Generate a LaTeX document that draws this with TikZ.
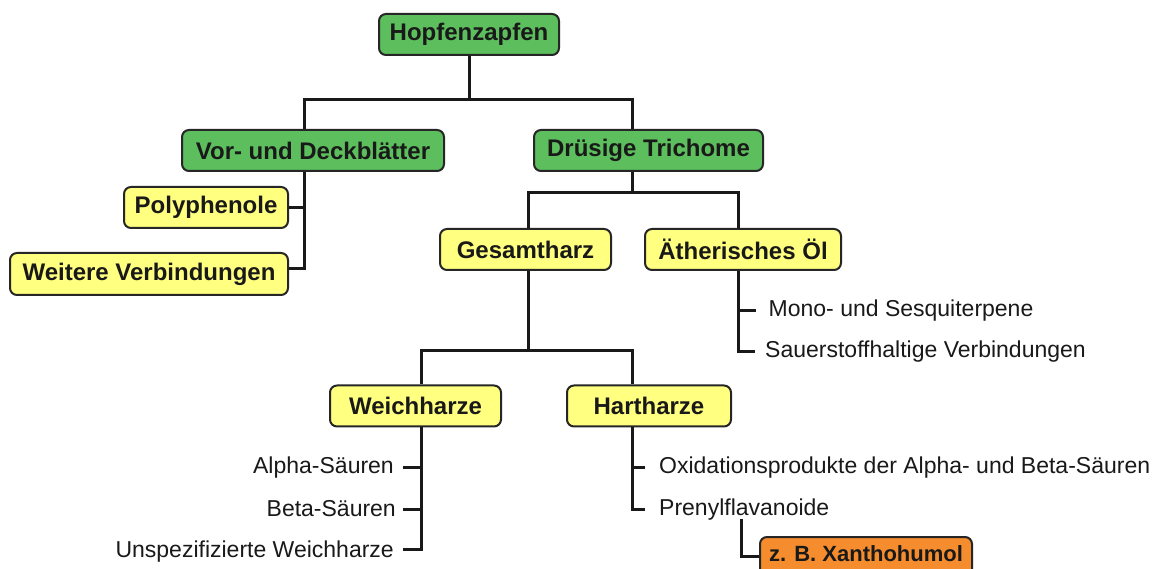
\documentclass[tikz,border=0pt]{standalone}
\usepackage{fontspec}
\setmainfont{Liberation Sans}
\definecolor{boxgreen}{RGB}{92,190,92}
\definecolor{boxyellow}{RGB}{255,255,128}
\definecolor{boxorange}{RGB}{245,140,45}
\begin{document}
\begin{tikzpicture}[x=1pt,y=-1pt,
  box/.style={draw=black!85, line width=2pt, rounded corners=7pt, minimum height=41pt, inner sep=0pt,
              font=\fontsize{24}{28}\selectfont\bfseries, text=black!90},
  gbox/.style={box, fill=boxgreen},
  ybox/.style={box, fill=boxyellow},
  obox/.style={box, fill=boxorange, font=\fontsize{22}{26}\selectfont\bfseries},
  lbl/.style={inner sep=0pt, font=\fontsize{23}{27}\selectfont, text=black!90},
  conn/.style={line width=3pt, draw=black!90}]
\clip (0,0) rectangle (1171,569);
\fill[white] (0,0) rectangle (1171,569);

% boxes
\node[gbox, minimum width=180pt] (hopf) at (469,34.5) {Hopfenzapfen};
\node[gbox, minimum width=262pt] (vor)  at (313,150.5) {Vor- und Deckblätter};
\node[gbox, minimum width=229pt] (dru)  at (648.5,150.5) {Drüsige Trichome};
\node[ybox, minimum width=164pt] (poly) at (206,207.5) {Polyphenole};
\node[ybox, minimum width=278pt, minimum height=42pt] (weit) at (149,274) {Weitere Verbindungen};
\node[ybox, minimum width=171pt] (ges)  at (525.5,249.5) {Gesamtharz};
\node[ybox, minimum width=196pt] (aeth) at (743,249.5) {Ätherisches Öl};
\node[ybox, minimum width=171pt] (weich) at (415.5,406) {Weichharze};
\node[ybox, minimum width=164pt] (hart) at (649,406) {Hartharze};
\node[obox, minimum width=212pt, minimum height=41pt] (xan) at (866,557.5) {\raisebox{7pt}{z. B. Xanthohumol}};

% plain labels
\node[lbl, anchor=base east] (alpha) at (394,474) {Alpha-Säuren};
\node[lbl, anchor=base east] (beta)  at (396,516) {Beta-Säuren};
\node[lbl, anchor=base east] (unsp)  at (394,557) {Unspezifizierte Weichharze};
\node[lbl, anchor=base west] (mono)  at (768.5,317) {Mono- und Sesquiterpene};
\node[lbl, anchor=base west] (sauer) at (765,358) {Sauerstoffhaltige Verbindungen};
\node[lbl, anchor=base west] (oxid)  at (659,474) {Oxidationsprodukte der Alpha- und Beta-Säuren};
\node[lbl, anchor=base west] (pren)  at (659,515) {Prenylflavanoide};

% junction coordinates
\coordinate (b1) at (469,100);
\coordinate (b2) at (632,193);
\coordinate (b3) at (528,351);

% level 1
\draw[conn] (hopf.south) -- (b1);
\draw[conn] ([xshift=-9pt]vor.north) |- (b1) -| ([xshift=-16.5pt]dru.north);

% Vor- und Deckblaetter
\coordinate (vl) at ([xshift=-9pt]vor.south);
\path ([yshift=5pt]weit.east) coordinate (w1);
\draw[conn] (vl) |- (w1);
\draw[conn] (poly.east) -- (poly.east -| vl);

% Druesige Trichome
\draw[conn] ([xshift=-16.5pt]dru.south) -- (b2);
\draw[conn] ([xshift=2.5pt]ges.north) |- (b2) -| ([xshift=-4.5pt]aeth.north);

% Gesamtharz
\draw[conn] ([xshift=2.5pt]ges.south) -- (b3);
\draw[conn] ([xshift=5.5pt]weich.north) |- (b3) -| ([xshift=-17pt]hart.north);

% Weichharze
\coordinate (wl) at ([xshift=5.5pt]weich.south);
\path ([xshift=9pt,yshift=8pt]unsp.base east) coordinate (u1);
\path ([xshift=9pt,yshift=7pt]alpha.base east) coordinate (a1);
\path ([xshift=7pt,yshift=7pt]beta.base east) coordinate (be1);
\draw[conn] (wl) |- (u1);
\draw[conn] (a1) -- (a1 -| wl);
\draw[conn] (be1) -- (be1 -| wl);

% Aetherisches Oel
\coordinate (al) at ([xshift=-4.5pt]aeth.south);
\path ([xshift=-13pt,yshift=6pt]mono.base west) coordinate (m1);
\path ([xshift=-10pt,yshift=6pt]sauer.base west) coordinate (s1);
\draw[conn] (al) |- (s1);
\draw[conn] (m1) -- (m1 -| al);

% Hartharze
\coordinate (hl) at ([xshift=-17pt]hart.south);
\path ([xshift=-14pt,yshift=7pt]oxid.base west) coordinate (o1);
\path ([xshift=-14pt,yshift=6pt]pren.base west) coordinate (p1);
\draw[conn] (hl) |- (p1);
\draw[conn] (o1) -- (o1 -| hl);

% Prenylflavanoide -> Xanthohumol
\draw[conn] ([xshift=82pt,yshift=-4pt]pren.base west) |- ([yshift=1pt]xan.west);
\end{tikzpicture}
\end{document}
